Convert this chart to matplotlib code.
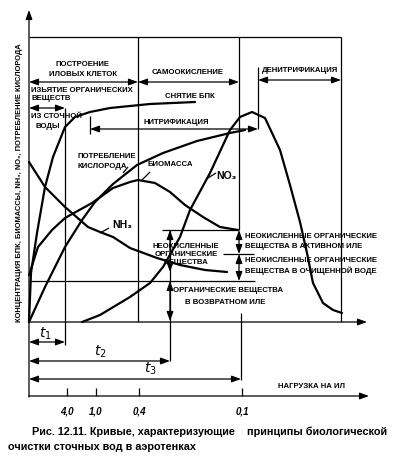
import matplotlib
matplotlib.use("Agg")
import matplotlib.pyplot as plt

plt.rcParams['font.family'] = ['Liberation Sans Narrow', 'Liberation Sans', 'DejaVu Sans']

# curves (x = time from origin, y = concentration), arbitrary units
bpk_x = [0, 2, 8, 16, 24, 36, 46, 61, 81, 121, 166]
bpk_y = [0, 49, 89, 135, 165, 195, 205, 210, 214, 218, 220]

nh3_x = [0, 16, 36, 59, 71, 84, 101, 128, 151, 176, 198]
nh3_y = [160, 135, 115, 95, 90, 85, 74, 64, 57, 52, 50]

bio_x = [0, 9, 23, 36, 63, 84, 101, 109, 126, 141, 156, 174, 191, 209]
bio_y = [47, 75, 92, 104, 119, 134, 140, 142, 139, 130, 117, 105, 95, 92]

o2_x = [0, 16, 36, 53, 66, 84, 108, 134, 168, 201, 216]
o2_y = [0, 35, 75, 102, 120, 138, 157, 169, 181, 189, 192]

no3_x = [53, 71, 101, 121, 134, 151, 161, 181, 201, 211, 223, 236, 251, 261, 271, 278, 284, 294, 304, 313]
no3_y = [0, 7, 25, 39, 55, 85, 112, 149, 192, 205, 210, 204, 172, 137, 100, 69, 39, 19, 12, 9]

# load axis ("нагрузка на ил")
load_labels = ['4,0', '1,0', '0,4', '0,1']
load_pos = [38, 67, 110, 213]

fig = plt.figure(figsize=(3.97, 4.62), dpi=100)
ax = fig.add_axes([0, 0, 1, 1])
ax.set_xlim(-29, 368)
ax.set_ylim(-140, 322)
ax.axis('off')

LW = 0.9
CW = 1.6
FS = 5.6


def line(xs, ys, lw=LW):
    ax.plot(xs, ys, color='black', lw=lw, solid_capstyle='butt')


def curve(xs, ys):
    ax.plot(xs, ys, color='black', lw=CW, solid_joinstyle='round', solid_capstyle='round')


def arrow(x0, y0, x1, y1, style='<|-|>'):
    ax.annotate('', xy=(x1, y1), xytext=(x0, y0),
                arrowprops=dict(arrowstyle=style + ',head_length=0.55,head_width=0.2',
                                lw=LW, color='black', shrinkA=0, shrinkB=0))


def label(x, y, s, ha='center', size=FS, **kw):
    ax.text(x, y, s, ha=ha, va='center', fontsize=size, fontweight='bold', **kw)


# axes and frame
arrow(0, -75, 0, 312, style='-|>')
arrow(0, 0, 338, 0, style='-|>')
arrow(0, -74, 340, -74, style='-|>')
line([0, 312], [285, 285])
line([312, 312], [285, 0])
line([109, 109], [285, 0])
line([210, 210], [285, 92])
line([36, 36], [214, -23])
line([141, 141], [92, -39])
line([212, 212], [9, -58])
line([0, 226], [41, 41])
line([133, 209], [92, 92])
line([194, 225], [68, 68])

for p, t in zip(load_pos, load_labels):
    line([p, p], [-66, -74])
    ax.text(p, -90, t, ha='center', va='center', fontsize=7, style='italic', fontweight='bold')
label(283, -65, 'НАГРУЗКА НА ИЛ')

# curves
curve(bpk_x, bpk_y)
curve(nh3_x, nh3_y)
curve(bio_x, bio_y)
curve(o2_x, o2_y)
curve(no3_x, no3_y)

# process ranges on top
arrow(0, 240, 109, 240)
arrow(109, 240, 210, 240)
label(54, 257, 'ПОСТРОЕНИЕ')
label(54, 247, 'ИЛОВЫХ КЛЕТОК')
label(159, 249, 'САМООКИСЛЕНИЕ')

line([229, 229], [255, 193])
arrow(229, 242, 312, 242)
label(271, 251, 'ДЕНИТРИФИКАЦИЯ')

line([61, 61], [206, 188])
arrow(61, 193, 229, 193)
label(147, 200, 'НИТРИФИКАЦИЯ')

arrow(0, 214, 36, 214)
label(2, 232, 'ИЗЬЯТИЕ ОРГАНИЧЕСКИХ', ha='left')
label(2, 223, 'ВЕЩЕСТВ', ha='left')
label(2, 205, 'ИЗ СТОЧНОЙ', ha='left')
label(6, 195, 'ВОДЫ', ha='left')

label(161, 225, 'СНЯТИЕ БПК')

label(48, 165, 'ПОТРЕБЛЕНИЕ', ha='left')
label(48, 155, 'КИСЛОРОДА', ha='left')
line([94, 99], [149, 155])

label(141, 157, 'БИОМАССА')
line([121, 113], [150, 142])

ax.text(93, 97, 'NH₃', ha='center', va='center', fontsize=7.5, fontweight='bold')
line([80, 71], [94, 89])
ax.text(197, 146, 'NO₃', ha='center', va='center', fontsize=7.5, fontweight='bold')
line([187, 179], [149, 144])

# organic matter levels
arrow(141, 92, 141, 50)
arrow(141, 41, 141, 1)
arrow(210, 92, 210, 68)
arrow(210, 68, 210, 41)

label(157, 76, 'НЕОКИСЛЕННЫЕ')
label(157, 68, 'ОРГАНИЧЕСКИЕ')
label(157, 59, 'ВЕЩЕСТВА')

label(216, 86, 'НЕОКИСЛЕННЫЕ ОРГАНИЧЕСКИЕ', ha='left')
label(216, 76, 'ВЕЩЕСТВА В АКТИВНОМ ИЛЕ', ha='left')
label(216, 61, 'НЕОКИСЛЕННЫЕ ОРГАНИЧЕСКИЕ', ha='left')
label(216, 51, 'ВЕЩЕСТВА В ОЧИЩЕННОЙ ВОДЕ', ha='left')

label(199, 32, 'ОРГАНИЧЕСКИЕ ВЕЩЕСТВА')
label(196, 20, 'В ВОЗВРАТНОМ ИЛЕ')

# time intervals
arrow(0, -20, 36, -20)
arrow(0, -39, 141, -39)
arrow(0, -57, 212, -57)
ax.text(16, -12, r'$t_1$', ha='center', va='center', fontsize=10)
ax.text(71, -30, r'$t_2$', ha='center', va='center', fontsize=10)
ax.text(121, -47, r'$t_3$', ha='center', va='center', fontsize=10)

# y label
ax.text(-9, 139, 'КОНЦЕНТРАЦИЯ БПК, БИОМАССЫ, NH₃, NO₃, ПОТРЕБЛЕНИЕ КИСЛОРОДА',
        rotation=90, ha='center', va='center', fontsize=5.4, fontweight='bold')

# caption
cap_font = ['Liberation Sans', 'DejaVu Sans']
ax.text(3, -110, 'Рис. 12.11. Кривые, характеризующие', ha='left', va='center',
        fontsize=7.8, fontweight='bold', family=cap_font)
ax.text(218, -110, 'принципы биологической', ha='left', va='center',
        fontsize=7.8, fontweight='bold', family=cap_font)
ax.text(-21, -125, 'очистки сточных вод в аэротенках', ha='left', va='center',
        fontsize=7.8, fontweight='bold', family=cap_font)

fig.savefig('out.png', dpi=100)
